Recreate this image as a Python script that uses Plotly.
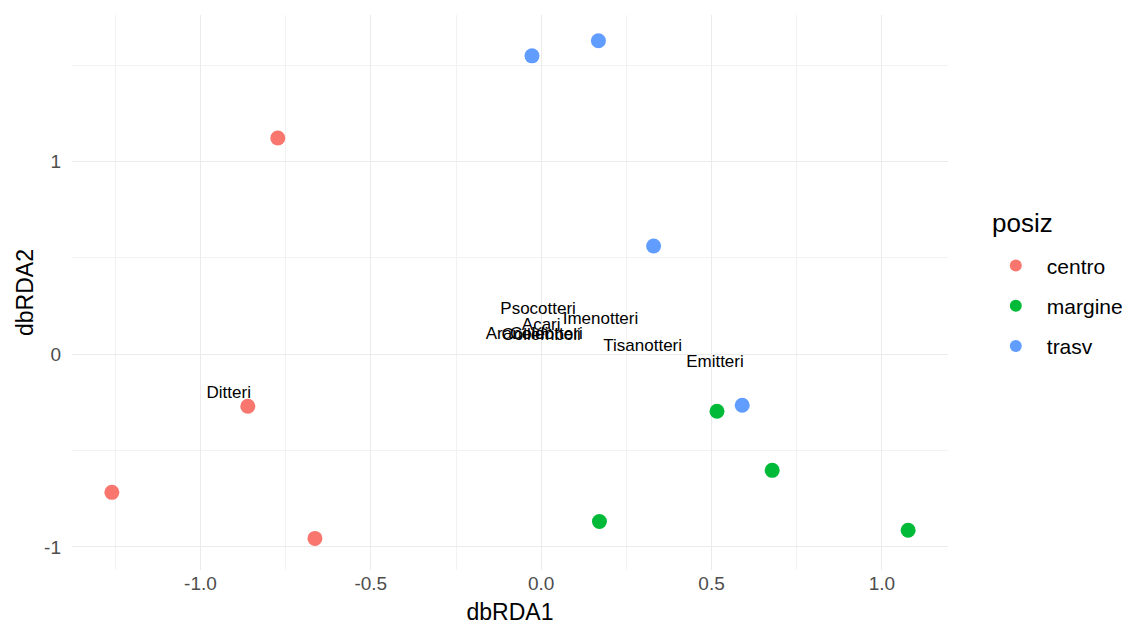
import plotly.graph_objects as go

# site scores
centro_x = [-0.773, -0.861, -1.260, -0.664]
centro_y = [1.122, -0.270, -0.717, -0.956]
margine_x = [0.516, 0.678, 0.171, 1.077]
margine_y = [-0.296, -0.603, -0.868, -0.914]
trasv_x = [-0.027, 0.168, 0.330, 0.590]
trasv_y = [1.548, 1.626, 0.561, -0.265]

# species scores (labels)
species = ["Ditteri", "Psocotteri", "Acari", "Imenotteri", "Araneidi",
           "Coleotteri", "Collemboli", "Tisanotteri", "Emitteri"]
species_x = [-0.917, -0.009, 0.0, 0.174, -0.071, 0.015, 0.0, 0.298, 0.51]
species_y = [-0.203, 0.229, 0.150, 0.177, 0.099, 0.099, 0.097, 0.036, -0.047]

groups = ["centro", "margine", "trasv"]
colors = ["#F8766D", "#00BA38", "#619CFF"]
legend_title = "posiz"

FONT = "Liberation Sans, Arial, sans-serif"

fig = go.Figure()
for name, xs, ys, col in zip(groups, [centro_x, margine_x, trasv_x],
                             [centro_y, margine_y, trasv_y], colors):
    fig.add_trace(go.Scatter(
        x=xs, y=ys, mode="markers", name=name, legendgroup=name,
        marker=dict(color=col, size=15, line=dict(width=0)),
    ))

fig.add_trace(go.Scatter(
    x=species_x, y=species_y, mode="text", text=species,
    textposition="middle center", showlegend=False,
    textfont=dict(family=FONT, size=17, color="black"),
    hoverinfo="skip",
))

axis_common = dict(
    showgrid=True, gridcolor="#EBEBEB", gridwidth=1.1,
    zeroline=False, showline=False, ticks="",
    tickfont=dict(family=FONT, size=19, color="#4D4D4D"),
)

fig.update_xaxes(
    **axis_common,
    range=[-1.377, 1.194], tickvals=[-1.0, -0.5, 0.0, 0.5, 1.0],
    ticktext=["-1.0", "-0.5", "0.0", "0.5", "1.0"],
    minor=dict(tickvals=[-1.25, -0.75, -0.25, 0.25, 0.75], showgrid=True,
               gridcolor="#F2F2F2", gridwidth=0.6),
    title=dict(text="dbRDA1", font=dict(family=FONT, size=23, color="black"),
               standoff=10),
)
fig.update_yaxes(
    **axis_common,
    range=[-1.12, 1.76], tickvals=[-1, 0, 1], ticktext=["-1", "0", "1"],
    minor=dict(tickvals=[-0.5, 0.5, 1.5], showgrid=True,
               gridcolor="#F2F2F2", gridwidth=0.6),
    ticklabelstandoff=10,
    title=dict(text="dbRDA2", font=dict(family=FONT, size=23, color="black"),
               standoff=4),
)

fig.add_annotation(
    text=legend_title, xref="paper", yref="paper", x=1.048, y=0.625,
    xanchor="left", yanchor="middle", showarrow=False,
    font=dict(family=FONT, size=26, color="black"),
)

fig.update_layout(
    width=1140, height=632,
    margin=dict(l=72, r=192, t=15, b=62),
    plot_bgcolor="white", paper_bgcolor="white",
    font=dict(family=FONT),
    legend=dict(
        font=dict(family=FONT, size=21, color="black"),
        x=1.042, xanchor="left", y=0.585, yanchor="top",
        tracegroupgap=10, itemsizing="constant", itemwidth=52,
        bgcolor="rgba(0,0,0,0)",
    ),
)

fig.write_html("out.html")
